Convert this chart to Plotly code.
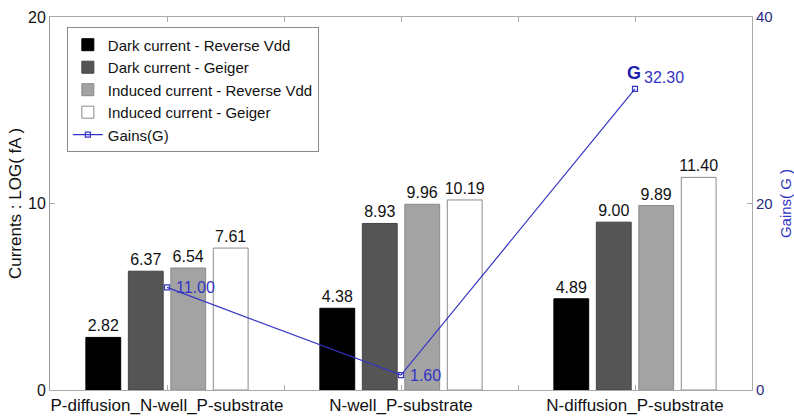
import plotly.graph_objects as go

# Device structures and measured values
structures = ["P-diffusion_N-well_P-substrate", "N-well_P-substrate", "N-diffusion_P-substrate"]
x_pos = [0, 1, 2]

dark_reverse = [2.82, 4.38, 4.89]
dark_geiger = [6.37, 8.93, 9.00]
induced_reverse = [6.54, 9.96, 9.89]
induced_geiger = [7.61, 10.19, 11.40]
gains = [11.00, 1.60, 32.30]

series = [
    ("Dark current - Reverse Vdd", dark_reverse, "#000000", "#000000"),
    ("Dark current - Geiger", dark_geiger, "#555555", "#444444"),
    ("Induced current - Reverse Vdd", induced_reverse, "#a3a3a3", "#8a8a8a"),
    ("Induced current - Geiger", induced_geiger, "#ffffff", "#8c8c8c"),
]

FONT = "Liberation Sans, Arial, Helvetica, sans-serif"
BLUE = "#3434c4"

fig = go.Figure()

for name, vals, fill, edge in series:
    fig.add_trace(go.Bar(
        x=x_pos, y=vals, name=name,
        marker=dict(color=fill, line=dict(color=edge, width=1)),
        text=[f"{v:.2f}" for v in vals],
        textposition="outside",
        constraintext="none",
        cliponaxis=False,
        textfont=dict(family=FONT, size=16, color="#111111"),
    ))

fig.add_trace(go.Scatter(
    x=x_pos, y=gains, yaxis="y2", name="Gains(G)",
    mode="lines+markers",
    line=dict(color=BLUE, width=1.2),
    marker=dict(symbol="square-open", size=5, color=BLUE, line=dict(width=1.2)),
    cliponaxis=False,
))

# Gain value labels beside each point (the peak label sits a little higher)
label_lift = [0, 0, 11]
for xi, g, lift in zip(x_pos, gains, label_lift):
    fig.add_annotation(
        x=xi, y=g, xref="x", yref="y2",
        text=f"{g:.2f}", showarrow=False,
        xanchor="left", yanchor="middle",
        xshift=7, yshift=lift,
        font=dict(family=FONT, size=16, color=BLUE),
    )

# Label for the gain curve near its peak
fig.add_annotation(
    x=x_pos[2], y=gains[2], xref="x", yref="y2",
    text="<b>G</b>", showarrow=False,
    xshift=-1, yshift=16,
    font=dict(family=FONT, size=18, color="#2020b0"),
)

fig.update_layout(
    width=794, height=417,
    margin=dict(l=50, r=42, t=17, b=27),
    paper_bgcolor="white", plot_bgcolor="white",
    barmode="group", bargap=0.274, bargroupgap=0.18,
    font=dict(family=FONT, size=15, color="#111111"),
    showlegend=True,
    legend=dict(
        x=0.024, y=0.972, xanchor="left", yanchor="top",
        bgcolor="white", bordercolor="#8a8a8a", borderwidth=1,
        font=dict(family=FONT, size=15, color="#111111"),
        tracegroupgap=0, itemwidth=30,
    ),
    xaxis=dict(
        range=[-0.5, 2.5],
        tickvals=[0, 0.5, 1, 1.5, 2],
        ticktext=[structures[0], "", structures[1], "", structures[2]],
        ticks="inside", ticklen=5, tickcolor="#aaaaaa",
        showline=True, linecolor="#aaaaaa", linewidth=1, mirror="ticks",
        showgrid=False, zeroline=False, automargin=False,
        tickfont=dict(family=FONT, size=17, color="#111111"),
    ),
    yaxis=dict(
        range=[0, 20], tickvals=[0, 10, 20],
        ticks="inside", ticklen=5, tickcolor="#aaaaaa",
        showline=True, linecolor="#999999", linewidth=1,
        showgrid=False, zeroline=False, automargin=False,
        tickfont=dict(family=FONT, size=16, color="#111111"),
        title=dict(text="Currents : LOG( fA )", standoff=2,
                   font=dict(family=FONT, size=17, color="#111111")),
    ),
    yaxis2=dict(
        range=[0, 40], tickvals=[0, 20, 40],
        overlaying="y", side="right",
        ticks="inside", ticklen=5, tickcolor="#aaaaaa",
        showline=True, linecolor="#aaaaaa", linewidth=1,
        showgrid=False, zeroline=False, automargin=False,
        tickfont=dict(family=FONT, size=15, color="#2a2a80"),
        title=dict(text="Gains( G )", standoff=9,
                   font=dict(family=FONT, size=15, color=BLUE)),
    ),
)

fig.write_html("out.html")
